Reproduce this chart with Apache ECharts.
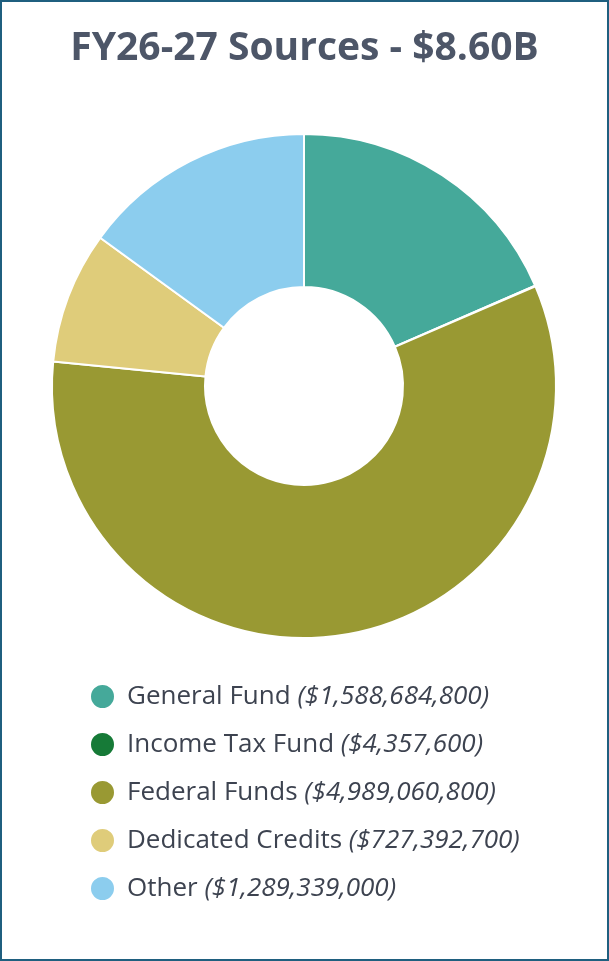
<!DOCTYPE html>
<html><head><meta charset="utf-8">
<script src="https://cdn.jsdelivr.net/npm/echarts@6/dist/echarts.min.js"></script>
<style>
html,body{margin:0;padding:0;background:#fff;}
#frame{width:609px;height:961px;box-sizing:border-box;border:2px solid #1f5f7f;}
#chart{width:605px;height:957px;}
</style></head><body>
<div id="frame"><div id="chart"></div></div>
<script>
const titleText = 'FY26-27 Sources - $8.60B';
const categories = ['General Fund', 'Income Tax Fund', 'Federal Funds', 'Dedicated Credits', 'Other'];
const values = [1588684800, 4357600, 4989060800, 727392700, 1289339000];
const colors = ['#45a99a', '#167a37', '#999933', '#dfcc7a', '#8ccdee'];

const fmt = v => '$' + v.toLocaleString('en-US');
const data = categories.map((c, i) => ({ name: c, value: values[i], itemStyle: { color: colors[i] } }));

const chart = echarts.init(document.getElementById('chart'));
chart.setOption({
  animation: false,
  title: {
    text: titleText, left: 'center', top: 22,
    textStyle: { fontFamily: 'Open Sans', fontWeight: 'bold', fontSize: 39, color: '#4d5668' }
  },
  legend: {
    orient: 'vertical', left: 82, top: 676,
    icon: 'circle', itemWidth: 25, itemHeight: 25, itemGap: 21,
    data: categories,
    formatter: name => {
      const i = categories.indexOf(name);
      return '{n|' + name + ' }{v|(' + fmt(values[i]) + ')}';
    },
    textStyle: {
      fontFamily: 'Open Sans', color: '#3d4350', fontSize: 26,
      padding: [0, 0, 0, 7],
      rich: {
        n: { fontFamily: 'Open Sans', fontSize: 26, lineHeight: 28, color: '#3d4350' },
        v: { fontFamily: 'Open Sans', fontSize: 26, lineHeight: 28, fontStyle: 'italic', color: '#3d4350' }
      }
    }
  },
  series: [{
    type: 'pie',
    center: [302, 384],
    radius: [99, 252],
    startAngle: 90,
    clockwise: true,
    label: { show: false },
    labelLine: { show: false },
    itemStyle: { borderColor: '#ffffff', borderWidth: 2 },
    emphasis: { disabled: true },
    data: data
  }]
});
</script>
</body></html>
